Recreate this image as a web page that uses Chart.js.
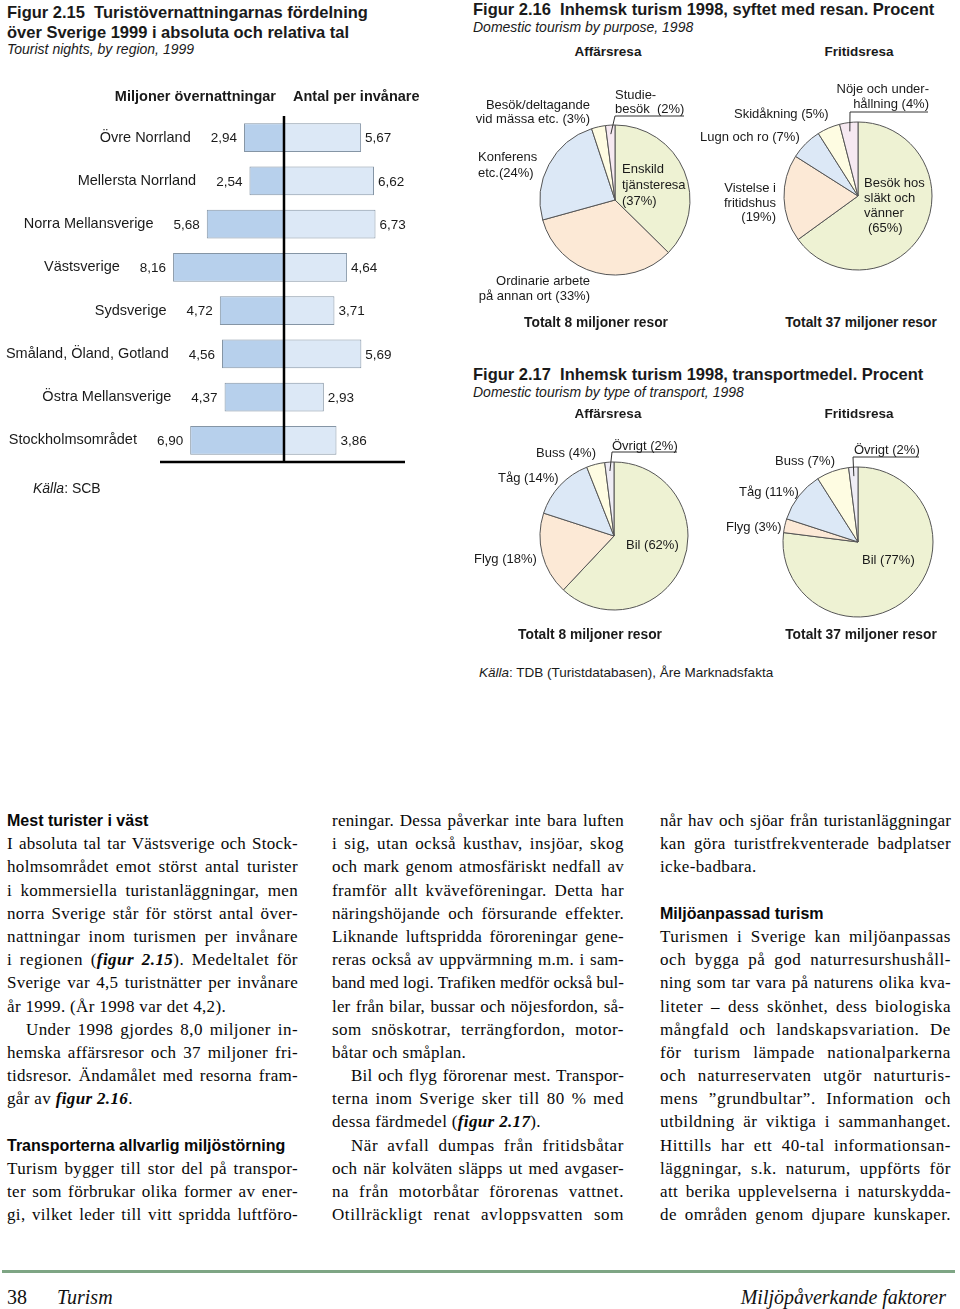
<!DOCTYPE html>
<html lang="sv">
<head>
<meta charset="utf-8">
<title>Turism – figur 2.15–2.17</title>
<script src="https://cdn.jsdelivr.net/npm/chart.js@4.4.1/dist/chart.umd.min.js"></script>
<style>
  body { margin: 0; background: #fff; }
  #page { position: relative; width: 960px; height: 1309px; overflow: hidden;
          font-family: 'Liberation Sans', Arial, sans-serif; color: #1a1a1a; }
  .a { position: absolute; white-space: pre; z-index: 2; }
  canvas { position: absolute; z-index: 1; }
  .tit { font-weight: bold; font-size: 16.5px; line-height: 18px; }
  .sub { font-style: italic; font-size: 14px; line-height: 18px; }
  .hd { font-weight: bold; font-size: 13.5px; line-height: 18px; transform: translateX(-50%); }
  .tot { font-weight: bold; font-size: 13.8px; line-height: 18px; transform: translateX(-50%); }
  .lb { font-size: 13px; line-height: 15px; }
  .r { text-align: right; }
  .col { position: absolute; top: 809px; font-family: 'Liberation Serif', 'Times New Roman', serif;
         font-size: 17px; line-height: 23.2px; color: #080808; }
  .col div { text-align: justify; text-align-last: justify; height: 23.2px; white-space: nowrap; }
  .col div.l { text-align-last: left; }
  .col div.in { text-indent: 19px; }
  .col div.h { font-family: 'Liberation Sans', Arial, sans-serif; font-weight: bold; font-size: 16px;
               text-align-last: left; }
  .col i { font-weight: bold; }
  .fot { position: absolute; top: 1285px; font-family: 'Liberation Serif', serif; font-size: 20px; line-height: 24px; color: #111; }
</style>
</head>
<body>
<div id="page">

  <!-- Figur 2.15 -->
  <div class="a tit" style="left:7px; top:2px; line-height:20px;">Figur 2.15  Turistövernattningarnas fördelning
över Sverige 1999 i absoluta och relativa tal</div>
  <div class="a sub" style="left:7px; top:40px;">Tourist nights, by region, 1999</div>
  <div class="a" style="right:684px; top:87px; font-weight:bold; font-size:14.5px; line-height:18px;">Miljoner övernattningar</div>
  <div class="a" style="left:293px; top:87px; font-weight:bold; font-size:14.5px; line-height:18px;">Antal per invånare</div>
  <canvas id="regionChart" width="470" height="380" style="left:0; top:100px;"></canvas>
  <div class="a" style="left:33px; top:479px; font-size:14px; line-height:18px;"><i>Källa</i>: SCB</div>

  <!-- Figur 2.16 -->
  <div class="a tit" style="left:473px; top:0;">Figur 2.16  Inhemsk turism 1998, syftet med resan. Procent</div>
  <div class="a sub" style="left:473px; top:18px;">Domestic tourism by purpose, 1998</div>
  <div class="a hd" style="left:608px; top:43px;">Affärsresa</div>
  <div class="a hd" style="left:859px; top:43px;">Fritidsresa</div>
  <canvas id="syfteAffarChart" width="230" height="200" style="left:465px; top:90px;"></canvas>
  <canvas id="syfteFritidChart" width="230" height="200" style="left:708px; top:86px;"></canvas>
  <div class="a lb r" style="right:370px; top:98px; line-height:14px;">Besök/deltagande
vid mässa etc. (3%)</div>
  <div class="a lb" style="left:615px; top:88px; line-height:13.5px;">Studie-
besök  (2%)</div>
  <div class="a lb" style="left:478px; top:149px; line-height:16px;">Konferens
etc.(24%)</div>
  <div class="a lb" style="left:622px; top:161px; line-height:16px;">Enskild
tjänsteresa
(37%)</div>
  <div class="a lb r" style="right:370px; top:273px;">Ordinarie arbete
på annan ort (33%)</div>
  <div class="a tot" style="left:596px; top:314px;">Totalt 8 miljoner resor</div>
  <div class="a lb r" style="right:31px; top:81px;">Nöje och under-
hållning (4%)</div>
  <div class="a lb" style="left:734px; top:106px;">Skidåkning (5%)</div>
  <div class="a lb" style="left:700px; top:129px;">Lugn och ro (7%)</div>
  <div class="a lb r" style="right:184px; top:181px; line-height:14.5px;">Vistelse i
fritidshus
(19%)</div>
  <div class="a lb" style="left:864px; top:175px;">Besök hos
släkt och
vänner
<span style="padding-left:4px">(65%)</span></div>
  <div class="a tot" style="left:861px; top:314px;">Totalt 37 miljoner resor</div>

  <!-- Figur 2.17 -->
  <div class="a tit" style="left:473px; top:365px;">Figur 2.17  Inhemsk turism 1998, transportmedel. Procent</div>
  <div class="a sub" style="left:473px; top:383px;">Domestic tourism by type of transport, 1998</div>
  <div class="a hd" style="left:608px; top:405px;">Affärsresa</div>
  <div class="a hd" style="left:859px; top:405px;">Fritidsresa</div>
  <canvas id="transportAffarChart" width="230" height="200" style="left:464px; top:426px;"></canvas>
  <canvas id="transportFritidChart" width="230" height="200" style="left:708px; top:432px;"></canvas>
  <div class="a lb" style="left:536px; top:445px;">Buss (4%)</div>
  <div class="a lb" style="left:612px; top:438px;">Övrigt (2%)</div>
  <div class="a lb" style="left:498px; top:470px;">Tåg (14%)</div>
  <div class="a lb" style="left:474px; top:551px;">Flyg (18%)</div>
  <div class="a lb" style="left:626px; top:537px;">Bil (62%)</div>
  <div class="a tot" style="left:590px; top:626px;">Totalt 8 miljoner resor</div>
  <div class="a lb" style="left:854px; top:442px;">Övrigt (2%)</div>
  <div class="a lb" style="left:775px; top:453px;">Buss (7%)</div>
  <div class="a lb" style="left:739px; top:484px;">Tåg (11%)</div>
  <div class="a lb" style="left:726px; top:519px;">Flyg (3%)</div>
  <div class="a lb" style="left:862px; top:552px;">Bil (77%)</div>
  <div class="a tot" style="left:861px; top:626px;">Totalt 37 miljoner resor</div>
  <div class="a" style="left:479px; top:664px; font-size:13.5px; line-height:18px;"><i>Källa</i>: TDB (Turistdatabasen), Åre Marknadsfakta</div>

  <!-- brödtext -->
  <div class="col" style="left:7px; width:291px;">
    <div class="h">Mest turister i väst</div>
    <div>I absoluta tal tar Västsverige och Stock-</div>
    <div>holmsområdet emot störst antal turister</div>
    <div>i kommersiella turistanläggningar, men</div>
    <div>norra Sverige står för störst antal över-</div>
    <div>nattningar inom turismen per invånare</div>
    <div>i regionen (<i>figur 2.15</i>). Medeltalet för</div>
    <div>Sverige var 4,5 turistnätter per invånare</div>
    <div class="l">år 1999. (År 1998 var det 4,2).</div>
    <div class="in">Under 1998 gjordes 8,0 miljoner in-</div>
    <div>hemska affärsresor och 37 miljoner fri-</div>
    <div>tidsresor. Ändamålet med resorna fram-</div>
    <div class="l">går av <i>figur 2.16</i>.</div>
    <div class="l"></div>
    <div class="h">Transporterna allvarlig miljöstörning</div>
    <div>Turism bygger till stor del på transpor-</div>
    <div>ter som förbrukar olika former av ener-</div>
    <div>gi, vilket leder till vitt spridda luftföro-</div>
  </div>
  <div class="col" style="left:332px; width:292px;">
    <div>reningar. Dessa påverkar inte bara luften</div>
    <div>i sig, utan också kusthav, insjöar, skog</div>
    <div>och mark genom atmosfäriskt nedfall av</div>
    <div>framför allt kväveföreningar. Detta har</div>
    <div>näringshöjande och försurande effekter.</div>
    <div>Liknande luftspridda föroreningar gene-</div>
    <div>reras också av uppvärmning m.m. i sam-</div>
    <div>band med logi. Trafiken medför också bul-</div>
    <div>ler från bilar, bussar och nöjesfordon, så-</div>
    <div>som snöskotrar, terrängfordon, motor-</div>
    <div class="l">båtar och småplan.</div>
    <div class="in">Bil och flyg förorenar mest. Transpor-</div>
    <div>terna inom Sverige sker till 80 % med</div>
    <div class="l">dessa färdmedel (<i>figur 2.17</i>).</div>
    <div class="in">När avfall dumpas från fritidsbåtar</div>
    <div>och när kolväten släpps ut med avgaser-</div>
    <div>na från motorbåtar förorenas vattnet.</div>
    <div>Otillräckligt renat avloppsvatten som</div>
  </div>
  <div class="col" style="left:660px; width:291px;">
    <div>når hav och sjöar från turistanläggningar</div>
    <div>kan göra turistfrekventerade badplatser</div>
    <div class="l">icke-badbara.</div>
    <div class="l"></div>
    <div class="h">Miljöanpassad turism</div>
    <div>Turismen i Sverige kan miljöanpassas</div>
    <div>och bygga på god naturresurshushåll-</div>
    <div>ning som tar vara på naturens olika kva-</div>
    <div>liteter – dess skönhet, dess biologiska</div>
    <div>mångfald och landskapsvariation. De</div>
    <div>för turism lämpade nationalparkerna</div>
    <div>och naturreservaten utgör naturturis-</div>
    <div>mens ”grundbultar”. Information och</div>
    <div>utbildning är viktiga i sammanhanget.</div>
    <div>Hittills har ett 40-tal informationsan-</div>
    <div>läggningar, s.k. naturum, uppförts för</div>
    <div>att berika upplevelserna i naturskydda-</div>
    <div>de områden genom djupare kunskaper.</div>
  </div>

  <!-- sidfot -->
  <div style="position:absolute; left:2px; top:1270px; width:953px; height:3px; background:#7ea584;"></div>
  <div class="fot" style="left:7px;">38</div>
  <div class="fot" style="left:57px; font-style:italic;">Turism</div>
  <div class="fot" style="right:14px; font-style:italic;">Miljöpåverkande faktorer</div>
</div>

<script>
// Figur 2.15
const regioner = ['Övre Norrland', 'Mellersta Norrland', 'Norra Mellansverige', 'Västsverige',
  'Sydsverige', 'Småland, Öland, Gotland', 'Östra Mellansverige', 'Stockholmsområdet'];
const miljonerNatter = [2.94, 2.54, 5.68, 8.16, 4.72, 4.56, 4.37, 6.90];
const perInvanare = [5.67, 6.62, 6.73, 4.64, 3.71, 5.69, 2.93, 3.86];

// Figur 2.16
const syfteAffar = ['Enskild tjänsteresa', 'Ordinarie arbete på annan ort', 'Konferens etc.',
  'Besök/deltagande vid mässa etc.', 'Studiebesök'];
const syfteAffarProcent = [37, 33, 24, 3, 2];
const syfteFritid = ['Besök hos släkt och vänner', 'Vistelse i fritidshus', 'Lugn och ro',
  'Skidåkning', 'Nöje och underhållning'];
const syfteFritidProcent = [65, 19, 7, 5, 4];

// Figur 2.17
const transportmedel = ['Bil', 'Flyg', 'Tåg', 'Buss', 'Övrigt'];
const transportAffarProcent = [62, 18, 14, 4, 2];
const transportFritidProcent = [77, 3, 11, 7, 2];

const fargSyfte = ['#eef2d3', '#fce9d6', '#dce8f6', '#fefce2', '#f6e9f1'];
const fargTransport = ['#eef2d3', '#fce9d6', '#dce8f6', '#fefce2', '#efedf5'];

const komma = v => v.toFixed(2).replace('.', ',');

// brödtexten: fördela luften mellan bokstäver och ordmellanrum som i originalet
document.querySelectorAll('.col div:not(.h)').forEach(div => {
  const span = document.createElement('span');
  while (div.firstChild) span.appendChild(div.firstChild);
  div.appendChild(span);
  const n = span.textContent.length;
  if (!n) return;
  if (div.classList.contains('l')) {
    div.style.letterSpacing = '0.35px';
    return;
  }
  div.style.textAlignLast = 'left';
  const indrag = div.classList.contains('in') ? 19 : 0;
  const luft = div.clientWidth - indrag - span.getBoundingClientRect().width;
  div.style.textAlignLast = '';
  const ls = Math.max(-0.35, Math.min(0.6, luft * 0.55 / n));
  div.style.letterSpacing = ls.toFixed(2) + 'px';
});

// etiketter och mittlinje for fjärilsdiagrammet
const fjarilEtiketter = {
  id: 'fjarilEtiketter',
  afterDatasetsDraw(chart) {
    const { ctx, chartArea, scales } = chart;
    const x0 = scales.x.getPixelForValue(0);
    ctx.save();
    ctx.strokeStyle = '#000';
    ctx.lineWidth = 2.5;
    ctx.beginPath();
    ctx.moveTo(x0, chartArea.top);
    ctx.lineTo(x0, chartArea.bottom);
    ctx.moveTo(chartArea.left, chartArea.bottom);
    ctx.lineTo(chartArea.right, chartArea.bottom);
    ctx.stroke();

    ctx.fillStyle = '#1a1a1a';
    ctx.textBaseline = 'middle';
    const vanster = chart.getDatasetMeta(0).data;
    const hoger = chart.getDatasetMeta(1).data;
    vanster.forEach((bar, i) => {
      const txt = komma(miljonerNatter[i]);
      ctx.font = '13.5px "Liberation Sans", Arial, sans-serif';
      ctx.textAlign = 'right';
      ctx.fillText(txt, bar.x - 7, bar.y + 1);
      const w = ctx.measureText(txt).width;
      ctx.font = '14.5px "Liberation Sans", Arial, sans-serif';
      ctx.fillText(regioner[i], bar.x - 7 - w - 20, bar.y);
    });
    hoger.forEach((bar, i) => {
      ctx.font = '13.5px "Liberation Sans", Arial, sans-serif';
      ctx.textAlign = 'left';
      ctx.fillText(komma(perInvanare[i]), bar.x + 4, bar.y + 1);
    });
    ctx.restore();
  }
};

new Chart(document.getElementById('regionChart'), {
  type: 'bar',
  data: {
    labels: regioner,
    datasets: [
      {
        label: 'Miljoner övernattningar',
        data: miljonerNatter.map(v => -v),
        backgroundColor: '#b7d0ec',
        borderColor: '#8595a5',
        borderWidth: 1,
        borderSkipped: false,
        barPercentage: 0.67,
        categoryPercentage: 1
      },
      {
        label: 'Antal per invånare',
        data: perInvanare,
        backgroundColor: '#dce8f6',
        borderColor: '#8595a5',
        borderWidth: 1,
        borderSkipped: false,
        barPercentage: 0.67,
        categoryPercentage: 1
      }
    ]
  },
  options: {
    indexAxis: 'y',
    responsive: false,
    animation: false,
    layout: { padding: { left: 160, right: 65, top: 16, bottom: 18 } },
    plugins: { legend: { display: false }, tooltip: { enabled: false } },
    scales: {
      x: { display: false, stacked: true, min: -9.12, max: 8.9 },
      y: { display: false, stacked: true }
    }
  },
  plugins: [fjarilEtiketter]
});

// hänvisningslinje från liten sektor till understruken etikett
const hanvisning = {
  id: 'hanvisning',
  afterDatasetsDraw(chart, args, opts) {
    if (opts.index == null) return;
    const arc = chart.getDatasetMeta(0).data[opts.index];
    const mitt = (arc.startAngle + arc.endAngle) / 2;
    const r = arc.outerRadius * 0.88;
    const { ctx } = chart;
    ctx.save();
    ctx.strokeStyle = '#333';
    ctx.lineWidth = 1;
    ctx.beginPath();
    ctx.moveTo(arc.x + Math.cos(mitt) * r, arc.y + Math.sin(mitt) * r);
    ctx.lineTo(arc.x + opts.dx0, arc.y + opts.dy);
    ctx.lineTo(arc.x + opts.dx1, arc.y + opts.dy);
    ctx.stroke();
    ctx.restore();
  }
};

function cirkel(id, etiketter, varden, farger, radie, pilar) {
  // cirkelns mitt ligger på (150, 110) i en 230 x 200 ruta
  new Chart(document.getElementById(id), {
    type: 'pie',
    data: {
      labels: etiketter,
      datasets: [{
        data: varden,
        backgroundColor: farger,
        borderColor: '#555',
        borderWidth: 1
      }]
    },
    options: {
      responsive: false,
      animation: false,
      layout: { padding: { left: 150 - radie, right: 80 - radie, top: 110 - radie, bottom: 90 - radie } },
      plugins: {
        legend: { display: false },
        tooltip: { enabled: false },
        hanvisning: pilar
      }
    },
    plugins: [hanvisning]
  });
}

cirkel('syfteAffarChart', syfteAffar, syfteAffarProcent, fargSyfte, 75.5,
  { index: 4, dx0: 0, dx1: 69, dy: -84 });
cirkel('syfteFritidChart', syfteFritid, syfteFritidProcent, fargSyfte, 74.5,
  { index: 4, dx0: -8, dx1: 70, dy: -84 });
cirkel('transportAffarChart', transportmedel, transportAffarProcent, fargTransport, 74.5,
  { index: 4, dx0: -2, dx1: 63, dy: -84 });
cirkel('transportFritidChart', transportmedel, transportFritidProcent, fargTransport, 75.5,
  { index: 4, dx0: -5, dx1: 61, dy: -85 });
</script>
</body>
</html>
